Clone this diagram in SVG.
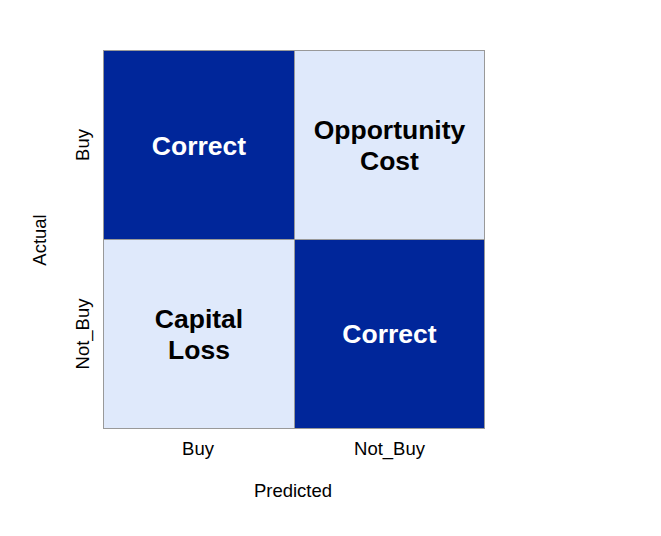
<svg xmlns="http://www.w3.org/2000/svg" width="661" height="536" viewBox="0 0 661 536">
<style>
.dark{fill:#00269a;stroke:#999;stroke-width:1}
.light{fill:#dfe9fb;stroke:#999;stroke-width:1}
.lblw{font-family:"Liberation Sans",Arial,sans-serif;font-weight:bold;font-size:26.5px;fill:#fff;text-anchor:middle}
.lblb{font-family:"Liberation Sans",Arial,sans-serif;font-weight:bold;font-size:26.5px;fill:#000;text-anchor:middle}
.tick{font-family:"Liberation Sans",Arial,sans-serif;font-size:18.5px;fill:#000;text-anchor:middle}
</style>
<rect width="661" height="536" fill="#fff"/>
<g id="cell-buy-buy"><rect class="dark" x="103.5" y="50.5" width="191" height="189"/><text class="lblw" x="199" y="154.5">Correct</text></g>
<g id="cell-buy-notbuy"><rect class="light" x="294.5" y="50.5" width="190" height="189"/><text class="lblb" x="389.5" y="138.5">Opportunity</text><text class="lblb" x="389.5" y="169.5">Cost</text></g>
<g id="cell-notbuy-buy"><rect class="light" x="103.5" y="239.5" width="191" height="189"/><text class="lblb" x="199" y="327.5">Capital</text><text class="lblb" x="199" y="358.5">Loss</text></g>
<g id="cell-notbuy-notbuy"><rect class="dark" x="294.5" y="239.5" width="190" height="189"/><text class="lblw" x="389.5" y="342.5">Correct</text></g>
<g id="axes">
<text class="tick" x="198" y="455">Buy</text>
<text class="tick" x="389.5" y="455">Not_Buy</text>
<text class="tick" x="293" y="497">Predicted</text>
<text class="tick" transform="translate(89,145) rotate(-90)">Buy</text>
<text class="tick" transform="translate(89,334) rotate(-90)">Not_Buy</text>
<text class="tick" transform="translate(46,240) rotate(-90)">Actual</text>
</g>
</svg>
